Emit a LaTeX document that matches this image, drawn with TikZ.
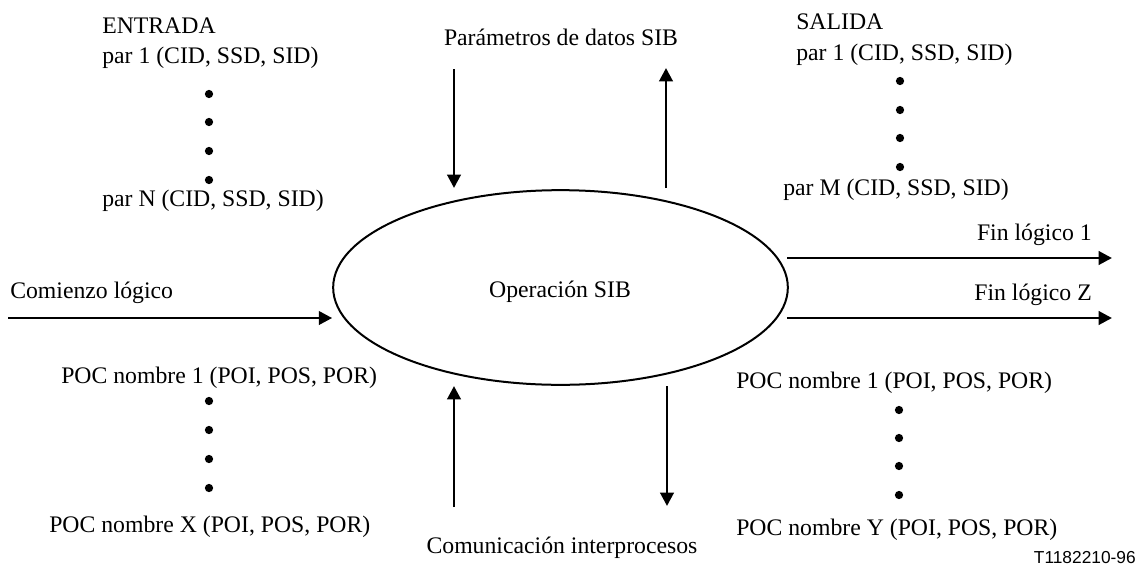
\documentclass[tikz,border=0pt]{standalone}
\usepackage{fontspec}
\setmainfont{Liberation Serif}
\newfontfamily\labelsans{Liberation Sans}
\usetikzlibrary{arrows.meta,shapes.geometric}
\tikzset{
  txt/.style={inner sep=0pt, anchor=base west, font=\fontsize{17.8}{21}\selectfont},
  ctxt/.style={inner sep=0pt, anchor=base, font=\fontsize{17.8}{21}\selectfont},
  arr/.style={line width=2.2pt, -{Triangle[length=10pt,width=10pt]}},
  dotm/.style={circle, fill=black, inner sep=0pt, minimum size=6.2pt},
  opell/.style={ellipse, draw, line width=1.5pt, minimum width=341pt, minimum height=146pt, inner sep=0pt}
}
\begin{document}
\begin{tikzpicture}[x=0.75pt,y=-0.75pt]
\useasboundingbox (0,0) rectangle (1145,575);
% central ellipse
\node[opell] (op) at (560.5,287.5) {};
\node[ctxt] (optxt) at (560,297) {Operación SIB};
% ENTRADA
\node[txt] (ent) at (102,33) {ENTRADA};
\node[txt] (ent1) at (102,63) {par 1 (CID, SSD, SID)};
\node[dotm] (ed1) at (209,94) {};
\node[dotm] (ed2) at (209,122) {};
\node[dotm] (ed3) at (209,151) {};
\node[dotm] (ed4) at (209,180) {};
\node[txt] (entN) at (102,206) {par N (CID, SSD, SID)};
% SALIDA
\node[txt] (sal) at (796,29) {SALIDA};
\node[txt] (sal1) at (796,60) {par 1 (CID, SSD, SID)};
\node[dotm] (sd1) at (900,81) {};
\node[dotm] (sd2) at (900,110) {};
\node[dotm] (sd3) at (900,138) {};
\node[dotm] (sd4) at (900,167) {};
\node[txt] (salM) at (783,195) {par M (CID, SSD, SID)};
% parametros
\node[ctxt] (par) at (561,45) {Parámetros de datos SIB};
\coordinate (pA) at (454,69);
\coordinate (pB) at (454,188);
\coordinate (pC) at (666,188);
\coordinate (pD) at (666,68);
\draw[arr] (pA) -- (pB);
\draw[arr] (pC) -- (pD);
% comunicacion
\node[ctxt] (com) at (562,553) {Comunicación interprocesos};
\coordinate (cA) at (454,507);
\coordinate (cB) at (454,386);
\coordinate (cC) at (667,386);
\coordinate (cD) at (667,506);
\draw[arr] (cA) -- (cB);
\draw[arr] (cC) -- (cD);
% comienzo
\node[txt] (cl) at (10,298) {Comienzo lógico};
\coordinate (clA) at (8,318);
\draw[arr] (clA) -- (clA -| op.west);
% fin
\node[txt, anchor=base east] (f1) at (1092,240) {Fin lógico 1};
\node[txt, anchor=base east] (fZ) at (1092,300) {Fin lógico Z};
\coordinate (f1A) at (787,258);
\coordinate (f1B) at (1112,258);
\coordinate (fZA) at (787,318);
\coordinate (fZB) at (1112,318);
\draw[arr] (f1A) -- (f1B);
\draw[arr] (fZA) -- (fZB);
% POC left
\node[txt] (pl1) at (61,383) {POC nombre 1 (POI, POS, POR)};
\node[dotm] (ld1) at (209,401) {};
\node[dotm] (ld2) at (209,430) {};
\node[dotm] (ld3) at (209,459) {};
\node[dotm] (ld4) at (209,488) {};
\node[txt] (plX) at (49,532) {POC nombre X (POI, POS, POR)};
% POC right
\node[txt] (pr1) at (736,388) {POC nombre 1 (POI, POS, POR)};
\node[dotm] (rd1) at (899,410) {};
\node[dotm] (rd2) at (899,438) {};
\node[dotm] (rd3) at (899,466) {};
\node[dotm] (rd4) at (899,495) {};
\node[txt] (prY) at (736,535) {POC nombre Y (POI, POS, POR)};
% figure id
\node[inner sep=0pt, anchor=base east, font=\labelsans\fontsize{13}{15}\selectfont] (fid) at (1136,563) {T1182210-96};
\end{tikzpicture}
\end{document}
